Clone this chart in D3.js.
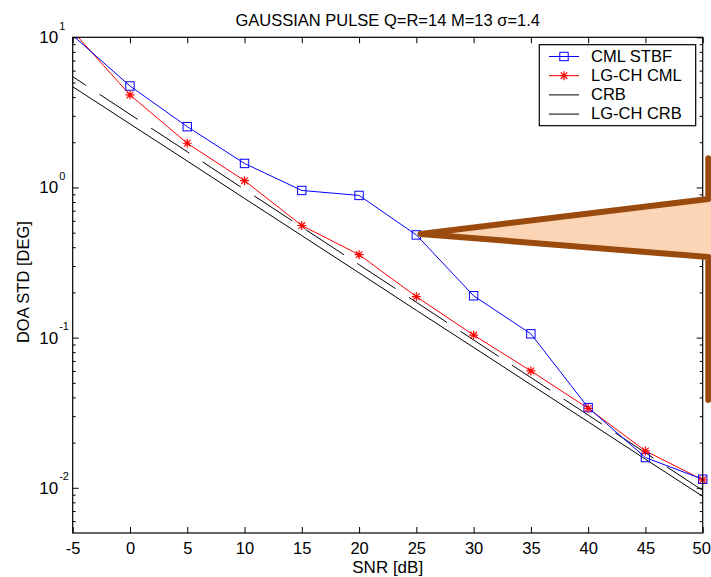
<!DOCTYPE html>
<html>
<head>
<meta charset="utf-8">
<script src="https://cdn.jsdelivr.net/npm/d3@7"></script>
<style>
  body { margin: 0; background: #fff; }
  svg { display: block; font-family: "Liberation Sans", Arial, Helvetica, sans-serif; }
</style>
</head>
<body>
<svg id="chart"></svg>
<script>
// SNR values (dB)
const snr = [-5, 0, 5, 10, 15, 20, 25, 30, 35, 40, 45, 50];
// DOA std (deg)
const cmlStbf = [10.3, 4.74, 2.54, 1.445, 0.955, 0.885, 0.483, 0.19, 0.106, 0.0342, 0.0159, 0.0114];
const lgchCml = [11.0, 4.13, 1.97, 1.11, 0.558, 0.357, 0.1875, 0.104, 0.060, 0.0338, 0.0176, 0.0113];
const crb = [4.69, 2.65, 1.50, 0.845, 0.478, 0.270, 0.152, 0.0861, 0.0486, 0.0275, 0.0155, 0.00877];
const lgchCrb = [5.47, 3.07, 1.73, 0.969, 0.545, 0.306, 0.172, 0.0965, 0.0542, 0.0305, 0.0171, 0.0096];

const yDecades = [-2, -1, 0, 1];
const legendNames = ["CML STBF", "LG-CH CML", "CRB", "LG-CH CRB"];

const W = 711, H = 577;
const margin = { top: 37.3, right: 8.3, bottom: 44, left: 72.7 };
const width = W - margin.left - margin.right;
const height = H - margin.top - margin.bottom;

const svg = d3.select("#chart").attr("width", W).attr("height", H);

const x = d3.scaleLinear().domain([-5, 50]).range([margin.left, margin.left + width]);
const y = d3.scaleLog().domain([5e-3, 10]).range([margin.top + height, margin.top]);

const series = [
  { name: legendNames[0], values: cmlStbf, color: "#0000ff", marker: "square" },
  { name: legendNames[1], values: lgchCml, color: "#ff0000", marker: "star" },
  { name: legendNames[2], values: crb, color: "#000000", marker: null },
  { name: legendNames[3], values: lgchCrb, color: "#000000", marker: null, dash: "45.7 16", offset: 29.7 }
];

svg.append("defs").append("clipPath").attr("id", "plotClip")
  .append("rect")
  .attr("x", margin.left).attr("y", margin.top)
  .attr("width", width).attr("height", height);

// ticks (inward, MATLAB style)
const minorVals = [];
for (let e = -3; e <= 0; e++) {
  for (let k = 2; k <= 9; k++) {
    const v = k * Math.pow(10, e);
    if (v > 5e-3 && v < 10) minorVals.push(v);
  }
}
const decadeVals = yDecades.map(e => Math.pow(10, e));

function tickAxis(axis, tx, ty) {
  const g = svg.append("g").attr("transform", `translate(${tx},${ty})`).call(axis);
  g.select(".domain").remove();
  g.selectAll(".tick line").attr("stroke", "#000").attr("stroke-width", 1);
  return g;
}

const xBottom = tickAxis(
  d3.axisBottom(x).tickValues(snr).tickSize(-6).tickPadding(9).tickFormat(d => String(d)),
  0, margin.top + height);
xBottom.selectAll("text")
  .attr("font-size", 16.5).attr("fill", "#000").attr("font-family", null)
  .attr("dx", d => d === 50 ? -1.5 : 0);
tickAxis(d3.axisTop(x).tickValues(snr).tickSize(-6).tickFormat(""), 0, margin.top);
tickAxis(d3.axisLeft(y).tickValues(decadeVals).tickSize(-6).tickFormat(""), margin.left, 0);
tickAxis(d3.axisLeft(y).tickValues(minorVals).tickSize(-3).tickFormat(""), margin.left, 0);
tickAxis(d3.axisRight(y).tickValues(decadeVals).tickSize(-6).tickFormat(""), margin.left + width, 0);
tickAxis(d3.axisRight(y).tickValues(minorVals).tickSize(-3).tickFormat(""), margin.left + width, 0);

// y tick labels 10^n
yDecades.forEach(e => {
  const ty = y(Math.pow(10, e));
  svg.append("text")
    .attr("x", margin.left - 14.5).attr("y", ty + 6)
    .attr("text-anchor", "end").attr("font-size", 17)
    .text("10");
  svg.append("text")
    .attr("x", margin.left - 13.5).attr("y", ty - 7.5)
    .attr("text-anchor", "start").attr("font-size", 11)
    .text(String(e));
});

// lines
const line = d3.line()
  .x((d, i) => x(snr[i]))
  .y(d => y(d));

const plot = svg.append("g").attr("clip-path", "url(#plotClip)");
series.slice().reverse().forEach(s => {
  plot.append("path")
    .datum(s.values)
    .attr("fill", "none")
    .attr("stroke", s.color)
    .attr("stroke-width", 1)
    .attr("stroke-dasharray", s.dash || null)
    .attr("stroke-dashoffset", s.offset || null)
    .attr("d", line);
});

// markers
function drawMarker(g, type, cx, cy, color) {
  if (type === "square") {
    g.append("rect")
      .attr("x", cx - 4.2).attr("y", cy - 4.2)
      .attr("width", 8.4).attr("height", 8.4)
      .attr("fill", "none").attr("stroke", color).attr("stroke-width", 1);
  } else if (type === "star") {
    const r = 4.5, rd = 3.3;
    const p = `M${cx - r},${cy}L${cx + r},${cy}M${cx},${cy - r}L${cx},${cy + r}` +
      `M${cx - rd},${cy - rd}L${cx + rd},${cy + rd}M${cx - rd},${cy + rd}L${cx + rd},${cy - rd}`;
    g.append("path").attr("d", p).attr("fill", "none").attr("stroke", color).attr("stroke-width", 1.2);
  }
}

const marks = svg.append("g");
series.forEach(s => {
  if (!s.marker) return;
  s.values.forEach((v, i) => {
    if (v < 5e-3 || v > 10) return;
    drawMarker(marks, s.marker, x(snr[i]), y(v), s.color);
  });
});

// frame
svg.append("rect")
  .attr("x", margin.left).attr("y", margin.top)
  .attr("width", width).attr("height", height)
  .attr("fill", "none").attr("stroke", "#000").attr("stroke-width", 1.2);

// title and axis labels
svg.append("text")
  .attr("x", margin.left + width / 2).attr("y", 26)
  .attr("text-anchor", "middle").attr("font-size", 16.5)
  .text("GAUSSIAN PULSE Q=R=14 M=13 \u03c3=1.4");

svg.append("text")
  .attr("x", margin.left + width / 2).attr("y", 573)
  .attr("text-anchor", "middle").attr("font-size", 17)
  .text("SNR [dB]");

svg.append("text")
  .attr("transform", `translate(29,${margin.top + height / 2 - 3}) rotate(-90)`)
  .attr("text-anchor", "middle").attr("font-size", 16.5)
  .text("DOA STD [DEG]");

// legend
const legend = svg.append("g");
legend.append("rect")
  .attr("x", 539.3).attr("y", 44.7)
  .attr("width", 156.4).attr("height", 81)
  .attr("fill", "#fff").attr("stroke", "#000").attr("stroke-width", 1.2);

series.forEach((s, i) => {
  const ly = 55.5 + i * 19.2;
  legend.append("line")
    .attr("x1", 549).attr("x2", 579)
    .attr("y1", ly + 1).attr("y2", ly + 1)
    .attr("stroke", s.color).attr("stroke-width", 1);
  if (s.marker) drawMarker(legend, s.marker, 564, ly + 1, s.color);
  legend.append("text")
    .attr("x", 591).attr("y", ly + 6)
    .attr("font-size", 16.5)
    .text(s.name);
});

// callout pointing at the CML STBF point at 25 dB
const tipX = x(snr[6]) + 4, tipY = y(cmlStbf[6]) - 1;
const edgeX = 708.3;
const callout = svg.append("g");
callout.append("path")
  .attr("d", `M${edgeX},199L${tipX},${tipY}L${edgeX},257L${W + 20},257L${W + 20},199Z`)
  .attr("fill", "#fbd5b5");
callout.append("rect")
  .attr("x", edgeX).attr("y", 158).attr("width", 20).attr("height", 242)
  .attr("fill", "#fbd5b5");
callout.append("path")
  .attr("d", `M${edgeX},158.3L${edgeX},199L${tipX},${tipY}L${edgeX},257L${edgeX},400`)
  .attr("fill", "none")
  .attr("stroke", "#9a4a0c")
  .attr("stroke-width", 6)
  .attr("stroke-linejoin", "round")
  .attr("stroke-linecap", "round");
</script>
</body>
</html>
